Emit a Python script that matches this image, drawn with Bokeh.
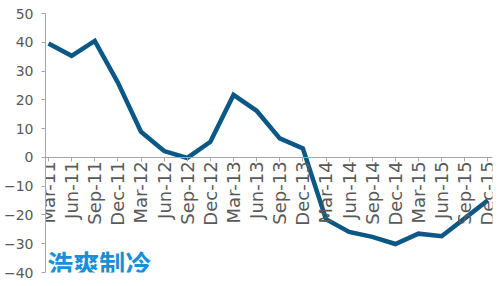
import math
from bokeh.plotting import figure
from bokeh.models import FixedTicker, Range1d, Label
from bokeh.embed import file_html
from bokeh.resources import INLINE

categories = ["Mar-11", "Jun-11", "Sep-11", "Dec-11", "Mar-12", "Jun-12", "Sep-12", "Dec-12",
              "Mar-13", "Jun-13", "Sep-13", "Dec-13", "Mar-14", "Jun-14", "Sep-14", "Dec-14",
              "Mar-15", "Jun-15", "Sep-15", "Dec-15"]
values = [39.6, 35.3, 40.5, 26.0, 8.9, 2.2, -0.2, 5.4,
          21.7, 16.2, 6.6, 3.1, -21.5, -25.9, -27.6, -30.1,
          -26.5, -27.4, -21.2, -14.9]
y_ticks = [-40, -30, -20, -10, 0, 10, 20, 30, 40, 50]
watermark = "浩爽制冷"

xs = list(range(len(categories)))

p = figure(width=500, height=286, output_backend="svg", toolbar_location=None,
           x_range=Range1d(-0.13, 19.2), y_range=Range1d(-40, 50),
           min_border_left=42, min_border_right=8, min_border_top=13, min_border_bottom=14)
p.outline_line_color = None
p.grid.grid_line_color = None
p.background_fill_color = "white"
p.border_fill_color = "white"

p.line(xs, values, line_color="#0b5886", line_width=4.5, line_join="miter")

gray = "#a6a6a6"
text_col = "#595959"

xa = p.xaxis[0]
xa.fixed_location = 0
xa.ticker = FixedTicker(ticks=xs)
xa.major_label_overrides = {i: c for i, c in zip(xs, categories)}
xa.major_label_orientation = math.pi / 2
xa.axis_line_color = gray
xa.major_tick_line_color = gray
xa.major_tick_in = 0
xa.major_tick_out = 4
xa.minor_tick_line_color = None
xa.major_label_text_font = "DejaVu Sans"
xa.major_label_text_font_size = "18px"
xa.major_label_text_color = text_col
xa.major_label_standoff = 0

ya = p.yaxis[0]
ya.ticker = FixedTicker(ticks=y_ticks)
ya.axis_line_color = gray
ya.major_tick_line_color = gray
ya.major_tick_in = 0
ya.major_tick_out = 4
ya.minor_tick_line_color = None
ya.major_label_text_font = "DejaVu Sans"
ya.major_label_text_font_size = "14px"
ya.major_label_text_color = text_col
ya.major_label_standoff = 8

p.add_layout(Label(x=-0.05, y=-43, text=watermark, text_font="Noto Sans CJK SC",
                   text_font_style="bold", text_font_size="26px", text_color="#1a8fd6"))

open("out.html", "w").write(file_html(p, INLINE))
